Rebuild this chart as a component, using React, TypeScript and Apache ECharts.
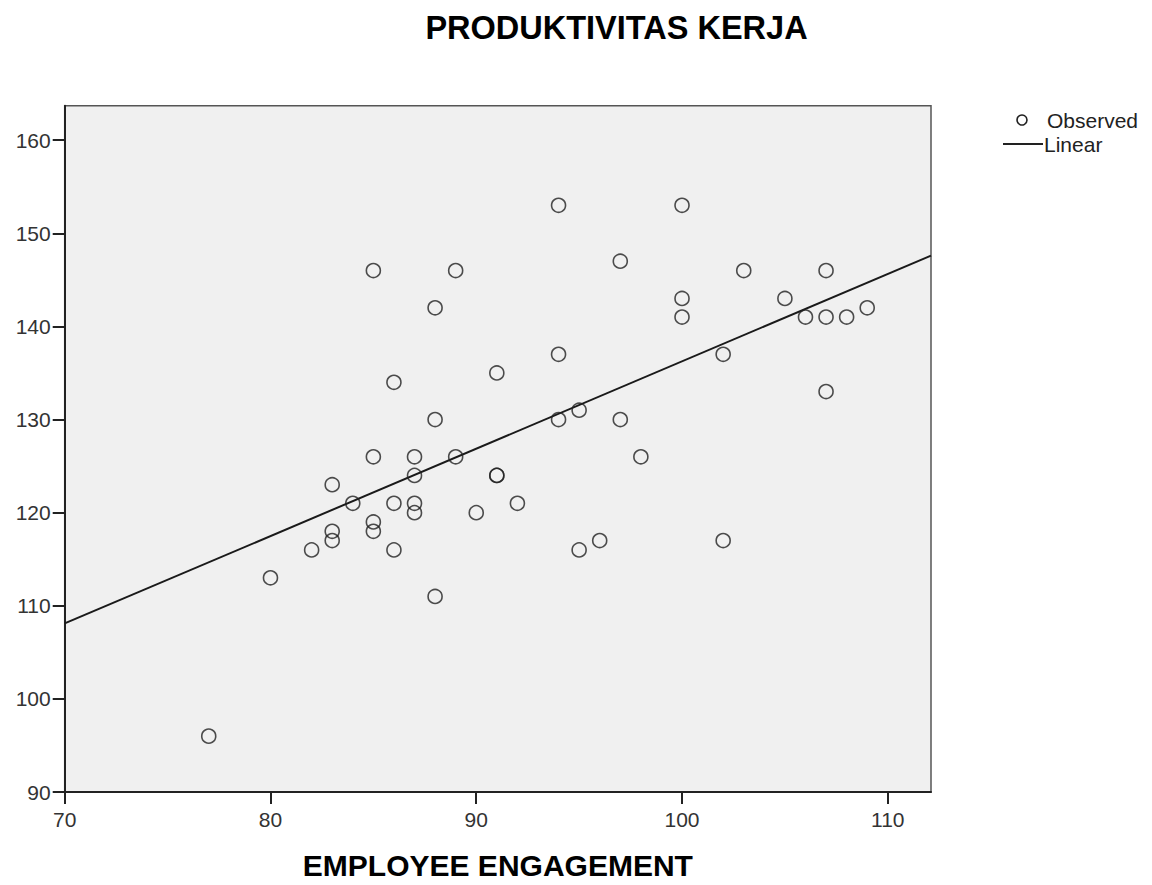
import React, { useEffect, useRef } from "react";
import * as echarts from "echarts";

const engagement = [77, 80, 82, 83, 83, 83, 84, 85, 85, 85, 85, 86, 86, 86, 87, 87, 87, 87, 88, 88, 88, 89, 89, 90, 91, 91, 91, 92, 94, 94, 94, 95, 95, 96, 97, 97, 98, 100, 100, 100, 102, 102, 103, 105, 106, 107, 107, 107, 108, 109];
const productivity = [96, 113, 116, 123, 118, 117, 121, 146, 126, 119, 118, 134, 121, 116, 126, 124, 121, 120, 142, 130, 111, 146, 126, 120, 135, 124, 124, 121, 153, 137, 130, 131, 116, 117, 147, 130, 126, 153, 143, 141, 137, 117, 146, 143, 141, 146, 141, 133, 141, 142];

const linearX = [70, 112.1];
const linearY = [108.1, 147.6];

const xTicks = [70, 80, 90, 100, 110];
const yTicks = [90, 100, 110, 120, 130, 140, 150, 160];

const FONT = "'Liberation Sans', Arial, sans-serif";

export default function App() {
  const ref = useRef<HTMLDivElement>(null);
  useEffect(() => {
    if (!ref.current) return;
    const chart = echarts.init(ref.current, undefined, { renderer: "svg" });
    const observed = engagement.map((x, i) => [x, productivity[i]]);
    const linear = linearX.map((x, i) => [x, linearY[i]]);
    chart.setOption({
      animation: false,
      backgroundColor: "#ffffff",
      grid: {
        left: 64.7,
        right: 221,
        top: 105.7,
        bottom: 91,
        show: true,
        backgroundColor: "#f0f0f0",
        borderColor: "#555555",
        borderWidth: 1.5,
      },
      xAxis: {
        type: "value",
        min: 70,
        max: 112.1,
        interval: 10,
        name: "EMPLOYEE ENGAGEMENT",
        nameLocation: "middle",
        nameGap: 58,
        nameTextStyle: { fontFamily: FONT, fontSize: 30, fontWeight: "bold", color: "#000" },
        axisLine: { show: true, onZero: false, lineStyle: { color: "#222", width: 2 } },
        axisTick: { show: true, length: 12, customValues: xTicks, lineStyle: { color: "#222", width: 2 } },
        axisLabel: { customValues: xTicks, margin: 17, fontFamily: FONT, fontSize: 21, color: "#333" },
        splitLine: { show: false },
      },
      yAxis: {
        type: "value",
        min: 90,
        max: 163.7,
        interval: 10,
        axisLine: { show: true, onZero: false, lineStyle: { color: "#222", width: 2 } },
        axisTick: { show: true, length: 12, customValues: yTicks, lineStyle: { color: "#222", width: 2 } },
        axisLabel: { customValues: yTicks, margin: 14, fontFamily: FONT, fontSize: 21, color: "#333" },
        splitLine: { show: false },
      },
      series: [
        {
          name: "Observed",
          type: "scatter",
          data: observed,
          symbol: "circle",
          symbolSize: 14,
          itemStyle: { color: "rgba(0,0,0,0)", borderColor: "#222", borderWidth: 1.6 },
          z: 3,
        },
        {
          name: "Linear",
          type: "line",
          data: linear,
          showSymbol: false,
          symbol: "none",
          lineStyle: { color: "#1a1a1a", width: 2 },
          z: 2,
        },
      ],
      graphic: [
        {
          type: "text",
          x: 616.5,
          y: 11,
          style: {
            text: "PRODUKTIVITAS KERJA",
            font: `bold 32.5px ${FONT}`,
            fill: "#000",
            textAlign: "center",
            textVerticalAlign: "top",
          },
        },
        {
          type: "circle",
          shape: { cx: 1022, cy: 120, r: 5 },
          style: { fill: "none", stroke: "#222", lineWidth: 1.6 },
        },
        {
          type: "text",
          x: 1047,
          y: 120,
          style: { text: "Observed", font: `21px ${FONT}`, fill: "#222", textVerticalAlign: "middle" },
        },
        {
          type: "line",
          shape: { x1: 1003, y1: 144, x2: 1043, y2: 144 },
          style: { stroke: "#222", lineWidth: 2 },
        },
        {
          type: "text",
          x: 1044,
          y: 144,
          style: { text: "Linear", font: `21px ${FONT}`, fill: "#222", textVerticalAlign: "middle" },
        },
      ],
    });
    return () => chart.dispose();
  }, []);
  return (
    <div
      ref={ref}
      style={{ position: "absolute", left: 0, top: 0, width: 1152, height: 885 }}
    />
  );
}
